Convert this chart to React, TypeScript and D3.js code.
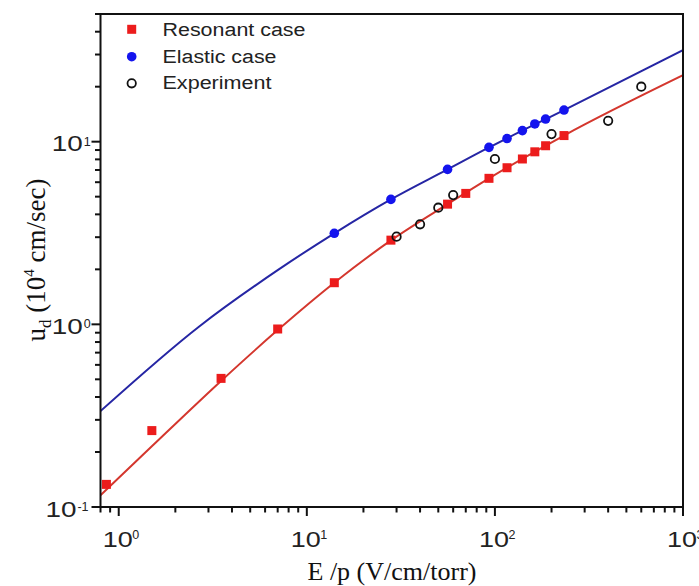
import React from 'react';
import * as d3 from 'd3';

// Data
const resonantX = [0.86, 1.5, 3.5, 7, 14, 28, 56, 70, 93, 116, 140, 163, 186, 233];
const resonantY = [0.133, 0.262, 0.506, 0.943, 1.69, 2.89, 4.55, 5.21, 6.3, 7.2, 8.04, 8.8, 9.5, 10.8];
const elasticX = [14, 28, 56, 93, 116, 140, 163, 186, 233];
const elasticY = [3.15, 4.83, 7.05, 9.31, 10.4, 11.5, 12.5, 13.3, 14.9];
const experimentX = [30, 40, 50, 60, 100, 200, 400, 600];
const experimentY = [3.02, 3.53, 4.35, 5.1, 8.04, 11.0, 13.0, 20.0];
const resonantFitX = [0.8, 1.5, 3.5, 7, 14, 28, 56, 93, 233, 1000];
const resonantFitY = [0.116, 0.215, 0.49, 0.93, 1.69, 2.88, 4.55, 6.3, 10.8, 23.1];
const elasticFitX = [0.8, 2.7, 7, 14, 28, 56, 93, 233, 1000];
const elasticFitY = [0.335, 0.98, 1.98, 3.15, 4.83, 7.05, 9.3, 14.9, 31.7];
const xDomain = [0.8, 1000];
const yDomain = [0.1, 50];
const legendLabels = ['Resonant case', 'Elastic case', 'Experiment'];

const W = 699;
const H = 586;
const L = 100.5;
const R = 683;
const T = 14;
const B = 507;

const SANS = '"Liberation Sans", Arial, sans-serif';
const SERIF = '"Liberation Serif", "Times New Roman", serif';

export default function App() {
  const x = d3.scaleLog().domain(xDomain).range([L, R]);
  const y = d3.scaleLog().domain(yDomain).range([B, T]);

  const isMajor = (v: number) => Math.abs(Math.log10(v) - Math.round(Math.log10(v))) < 1e-9;
  const xt = x.ticks();
  const yt = y.ticks();

  const line = d3
    .line<[number, number]>()
    .x((d) => x(d[0]))
    .y((d) => y(d[1]))
    .curve(d3.curveMonotoneX);

  const redFit = line(resonantFitX.map((v, i) => [v, resonantFitY[i]] as [number, number])) || '';
  const blueFit = line(elasticFitX.map((v, i) => [v, elasticFitY[i]] as [number, number])) || '';

  const blueLine = '#2626a4';
  const redLine = '#d4372e';
  const redMark = '#ec1c1c';
  const blueMark = '#1414ee';

  return (
    <svg width={W} height={H} style={{ position: 'absolute', left: 0, top: 0, background: '#fff' }}>
      <rect x={0} y={0} width={W} height={H} fill="#fff" />
      <defs>
        <clipPath id="plotClip">
          <rect x={L} y={T} width={R - L} height={B - T} />
        </clipPath>
      </defs>
      <g clipPath="url(#plotClip)">
        <path d={blueFit} fill="none" stroke={blueLine} strokeWidth={2} />
        <path d={redFit} fill="none" stroke={redLine} strokeWidth={2} />
        {resonantX.map((v, i) => (
          <rect key={'r' + i} x={x(v) - 4.5} y={y(resonantY[i]) - 4.5} width={9} height={9} fill={redMark} />
        ))}
        {elasticX.map((v, i) => (
          <circle key={'b' + i} cx={x(v)} cy={y(elasticY[i])} r={4.8} fill={blueMark} />
        ))}
        {experimentX.map((v, i) => (
          <circle key={'e' + i} cx={x(v)} cy={y(experimentY[i])} r={4.2} fill="none" stroke="#111" strokeWidth={1.8} />
        ))}
      </g>

      {/* frame */}
      <rect x={L} y={T} width={R - L} height={B - T} fill="none" stroke="#111" strokeWidth={2} />

      {/* x ticks */}
      {xt.map((v, i) => (
        <line key={'xt' + i} x1={x(v)} x2={x(v)} y1={B} y2={B + (isMajor(v) ? 9 : 5.5)} stroke="#111" strokeWidth={2} />
      ))}
      {xt.filter(isMajor).map((v, i) => {
        const e = Math.round(Math.log10(v));
        const cx = x(v);
        return (
          <g key={'xl' + i} fontFamily={SANS} fill="#222">
            <text x={cx - 1} y={547} fontSize={22} textAnchor="middle" textLength={30} lengthAdjust="spacingAndGlyphs">10</text>
            <text x={cx + 13.5} y={539} fontSize={12.5}>{String(e)}</text>
          </g>
        );
      })}

      {/* y ticks */}
      {yt.map((v, i) => (
        <line key={'yt' + i} x1={L} x2={L - (isMajor(v) ? 9 : 5.5)} y1={y(v)} y2={y(v)} stroke="#111" strokeWidth={2} />
      ))}
      {yt.filter(isMajor).map((v, i) => {
        const e = Math.round(Math.log10(v));
        const s = e < 0 ? '-' + String(-e) : String(e);
        const cy = y(v);
        const supW = s.length * 6.3;
        const tenEnd = 90 - supW - 1;
        return (
          <g key={'yl' + i} fontFamily={SANS} fill="#222">
            <text x={tenEnd - 31} y={cy + 9.5} fontSize={22} textLength={31} lengthAdjust="spacingAndGlyphs">10</text>
            <text x={tenEnd + 1} y={cy + 4} fontSize={12.5}>{s}</text>
          </g>
        );
      })}

      {/* axis titles */}
      <text x={392} y={580} fontFamily={SERIF} fontSize={26} textAnchor="middle" fill="#111">
        E /p (V/cm/torr)
      </text>
      <text
        transform={`translate(45, 260) rotate(-90)`}
        fontFamily={SERIF}
        fontSize={27}
        textAnchor="middle"
        fill="#111"
      >
        u<tspan fontSize={17} dy={6}>d</tspan>
        <tspan dy={-6}> (10</tspan>
        <tspan fontSize={15} dy={-11}>4</tspan>
        <tspan dy={11}> cm/sec)</tspan>
      </text>

      {/* legend */}
      <g fontFamily={SANS} fontSize={18} fill="#222">
        <rect x={131.7 - 4.5} y={29.3 - 4.5} width={9} height={9} fill={redMark} />
        <circle cx={131.7} cy={56.7} r={4.8} fill={blueMark} />
        <circle cx={131.7} cy={83.3} r={4.2} fill="none" stroke="#111" strokeWidth={1.8} />
        <text x={162.5} y={36} textLength={143} lengthAdjust="spacingAndGlyphs">{legendLabels[0]}</text>
        <text x={162.5} y={62.7} textLength={114} lengthAdjust="spacingAndGlyphs">{legendLabels[1]}</text>
        <text x={162.5} y={89.3} textLength={109} lengthAdjust="spacingAndGlyphs">{legendLabels[2]}</text>
      </g>
    </svg>
  );
}
